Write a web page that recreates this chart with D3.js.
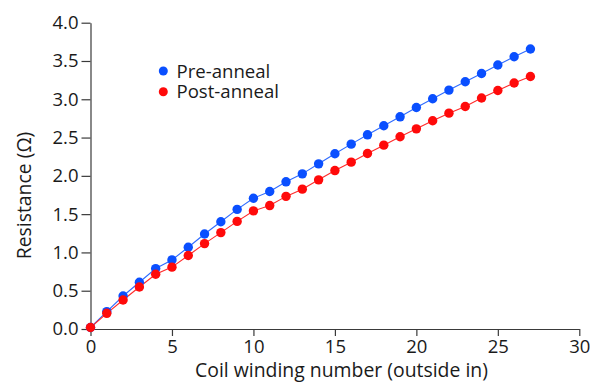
<!DOCTYPE html>
<html>
<head>
<meta charset="utf-8">
<script src="https://cdn.jsdelivr.net/npm/d3@7/dist/d3.min.js"></script>
<style>
  html, body { margin: 0; padding: 0; background: #fff; }
  svg { display: block; font-family: "Open Sans", sans-serif; }
</style>
</head>
<body>
<svg id="chart" width="590" height="384"></svg>
<script>
const windings = d3.range(0, 28);
const preAnneal = [0.02, 0.226, 0.431, 0.61, 0.789, 0.902, 1.068, 1.24, 1.401, 1.562, 1.708, 1.795, 1.922, 2.026, 2.157, 2.288, 2.414, 2.536, 2.654, 2.771, 2.893, 3.007, 3.12, 3.229, 3.337, 3.447, 3.556, 3.656];
const postAnneal = [0.02, 0.205, 0.379, 0.549, 0.715, 0.808, 0.96, 1.115, 1.259, 1.405, 1.542, 1.612, 1.732, 1.826, 1.948, 2.069, 2.179, 2.292, 2.401, 2.51, 2.614, 2.719, 2.819, 2.906, 3.016, 3.115, 3.212, 3.298];
const xTicks = [0, 5, 10, 15, 20, 25, 30];
const yTicks = [0, 0.5, 1.0, 1.5, 2.0, 2.5, 3.0, 3.5, 4.0];
const seriesNames = ["Pre-anneal", "Post-anneal"];
const seriesColors = ["#0a4fff", "#ff0a0a"];
const lineColors = ["#2f6bff", "#ff2a2a"];

const svg = d3.select("#chart");
const x = d3.scaleLinear().domain([0, 30]).range([90.5, 579.3]);
const y = d3.scaleLinear().domain([0, 4]).range([329, 22.7]);

const axisColor = "#3a3a3a";
const textColor = "#1a1a1a";

const gx = svg.append("g").attr("transform", `translate(0,${y(0)})`)
  .call(d3.axisBottom(x).tickValues(xTicks).tickFormat(d3.format("d")).tickSize(7).tickSizeOuter(0).tickPadding(4));
const gy = svg.append("g").attr("transform", `translate(${x(0)},0)`)
  .call(d3.axisLeft(y).tickValues(yTicks).tickFormat(d3.format(".1f")).tickSize(9).tickSizeOuter(0).tickPadding(3));
[gx, gy].forEach(g => {
  g.select(".domain").attr("stroke", axisColor).attr("stroke-width", 1.2);
  g.selectAll(".tick line").attr("stroke", axisColor).attr("stroke-width", 1.2);
  g.selectAll(".tick text").attr("fill", textColor).style("font-size", "18.5px").style("font-family", "'Open Sans', sans-serif");
});

const allSeries = [preAnneal, postAnneal];
const line = d3.line().x((d, i) => x(windings[i])).y(d => y(d));
[0, 1].forEach(s => {
  svg.append("path").datum(allSeries[s]).attr("d", line)
    .attr("fill", "none").attr("stroke", lineColors[s]).attr("stroke-width", 1.1);
});
[0, 1].forEach(s => {
  svg.append("g").selectAll("circle").data(allSeries[s]).join("circle")
    .attr("cx", (d, i) => x(windings[i])).attr("cy", d => y(d)).attr("r", 4.7)
    .attr("fill", seriesColors[s]);
});

// legend
const legend = svg.append("g");
seriesNames.forEach((name, i) => {
  const cy = 71 + i * 20.7;
  legend.append("circle").attr("cx", 163.3).attr("cy", cy).attr("r", 4.5).attr("fill", seriesColors[i]);
  legend.append("text").attr("x", 176.5).attr("y", cy).attr("dy", "0.35em")
    .attr("fill", textColor).style("font-size", "18.6px").text(name);
});

// axis titles
svg.append("text").attr("x", 341.5).attr("y", 377).attr("text-anchor", "middle")
  .attr("fill", textColor).style("font-size", "19.4px").text("Coil winding number (outside in)");
svg.append("text").attr("transform", "translate(31,195.5) rotate(-90)").attr("text-anchor", "middle")
  .attr("fill", textColor).style("font-size", "19.4px").text("Resistance (Ω)");
</script>
</body>
</html>
